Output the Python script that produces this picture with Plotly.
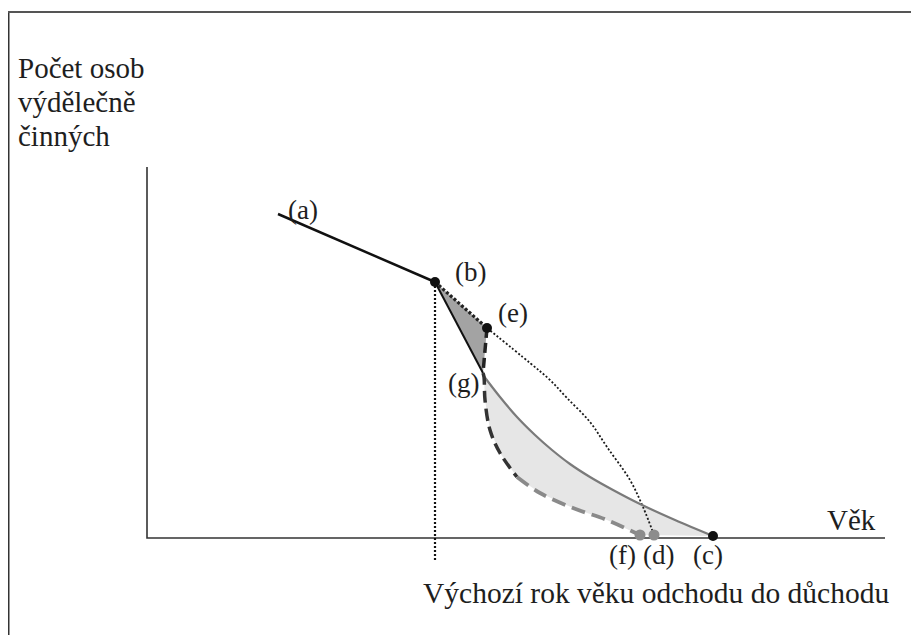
import plotly.graph_objects as go

# ---- schematic data (age on x, number of working persons on y; origin = axis corner) ----
# key points
pt_a = (131, 324)
pt_b = (288, 256)
pt_e = (340, 210)
pt_g = (336, 165)
pt_c = (566, 2)
pt_f = (493, 3)
pt_d = (507, 3)

# solid grey curve g -> c
solid_x = [336, 353, 370, 388, 405, 423, 443, 466, 493, 528, 566]
solid_y = [163, 141, 121, 103, 88, 74, 61, 48, 34, 18, 2]

# dashed curve g -> f (upper dark part, lower grey part)
dash_top_x = [336, 337, 338, 343, 353, 370]
dash_top_y = [165, 161, 138, 108, 85, 61]
dash_bot_x = [370, 393, 426, 460, 493]
dash_bot_y = [61, 45, 30, 18, 3]

# thin dotted curve e -> d
dot_x = [340, 383, 403, 420, 443, 460, 483, 496, 507]
dot_y = [210, 175, 158, 140, 116, 91, 58, 31, 3]

# axes extents
x_axis_end = 738
y_axis_end = 371
ref_drop = -22

labels = ["(a)", "(b)", "(e)", "(g)", "(f)", "(d)", "(c)"]
label_x = [156, 323, 366, 316, 475, 511, 561]
label_y = [328, 266, 225, 155, -17, -17, -17]

y_title = ["Počet osob", "výdělečně", "činných"]
x_title = "Věk"
bottom_title = "Výchozí rok věku odchodu do důchodu"

FONT = "Liberation Serif, Times New Roman, Times, serif"
TXT = "#1e1e1e"

# the page body has an 8px margin; figure is sized/offset to compensate
W, H = 903, 627
X0, Y1 = -139, 530

fig = go.Figure()

# light grey area between solid and dashed curves
poly_x = solid_x + [pt_f[0]] + dash_bot_x[::-1] + dash_top_x[::-1]
poly_y = solid_y + [pt_f[1]] + dash_bot_y[::-1] + dash_top_y[::-1]
fig.add_trace(go.Scatter(x=poly_x, y=poly_y, mode="lines", fill="toself",
                         fillcolor="#e6e6e6", line=dict(width=0), hoverinfo="skip"))

# dark triangle b-e-g
fig.add_trace(go.Scatter(x=[pt_b[0], pt_e[0], pt_g[0], pt_b[0]],
                         y=[pt_b[1], pt_e[1], pt_g[1], pt_b[1]],
                         mode="lines", fill="toself", fillcolor="#a3a3a3",
                         line=dict(width=0), hoverinfo="skip"))

# axes
fig.add_trace(go.Scatter(x=[0, 0, x_axis_end], y=[y_axis_end, 0, 0], mode="lines",
                         line=dict(color="#333333", width=1.6)))

# vertical reference dotted line at b
fig.add_trace(go.Scatter(x=[pt_b[0], pt_b[0]], y=[pt_b[1], ref_drop], mode="lines",
                         line=dict(color="#111111", width=2.2, dash="2px,2px")))

# a -> b
fig.add_trace(go.Scatter(x=[pt_a[0], pt_b[0]], y=[pt_a[1], pt_b[1]], mode="lines",
                         line=dict(color="#111111", width=2.5)))
# b -> g
fig.add_trace(go.Scatter(x=[pt_b[0], pt_g[0]], y=[pt_b[1], pt_g[1]], mode="lines",
                         line=dict(color="#111111", width=2)))
# b -> e dotted
fig.add_trace(go.Scatter(x=[pt_b[0], pt_e[0]], y=[pt_b[1], pt_e[1]], mode="lines",
                         line=dict(color="#222222", width=3.2, dash="3px,2px")))
# e -> g dashed
fig.add_trace(go.Scatter(x=[pt_e[0], pt_g[0]], y=[pt_e[1], pt_g[1]], mode="lines",
                         line=dict(color="#222222", width=3.5, dash="10px,5px")))
# thin dotted e -> d
fig.add_trace(go.Scatter(x=dot_x, y=dot_y, mode="lines", line_shape="spline",
                         line=dict(color="#1a1a1a", width=1.8, dash="2px,2px")))
# solid grey g -> c
fig.add_trace(go.Scatter(x=solid_x, y=solid_y, mode="lines", line_shape="spline",
                         line=dict(color="#7a7a7a", width=2.2)))
# dashed g -> f
fig.add_trace(go.Scatter(x=dash_top_x, y=dash_top_y, mode="lines", line_shape="spline",
                         line=dict(color="#333333", width=3.5, dash="12px,6px")))
fig.add_trace(go.Scatter(x=dash_bot_x, y=dash_bot_y, mode="lines", line_shape="spline",
                         line=dict(color="#8a8a8a", width=3.8, dash="14px,7px")))

# markers
fig.add_trace(go.Scatter(x=[pt_b[0], pt_e[0], pt_c[0]], y=[pt_b[1], pt_e[1], pt_c[1]],
                         mode="markers", marker=dict(color="#111111", size=10)))
fig.add_trace(go.Scatter(x=[pt_f[0], pt_d[0]], y=[pt_f[1], pt_d[1]],
                         mode="markers", marker=dict(color="#8c8c8c", size=11)))

# point labels
for t, lx, ly in zip(labels, label_x, label_y):
    fig.add_annotation(x=lx, y=ly, text=t, showarrow=False,
                       font=dict(family=FONT, size=27, color=TXT),
                       xanchor="center", yanchor="middle")

# axis titles
for i, t in enumerate(y_title):
    fig.add_annotation(x=-131, y=470 - i * 34, text=t, showarrow=False,
                       font=dict(family=FONT, size=29, color=TXT),
                       xanchor="left", yanchor="middle")
fig.add_annotation(x=704, y=18, text=x_title, showarrow=False,
                   font=dict(family=FONT, size=29, color=TXT),
                   xanchor="center", yanchor="middle")
fig.add_annotation(x=509, y=-55, text=bottom_title, showarrow=False,
                   font=dict(family=FONT, size=29.5, color=TXT),
                   xanchor="center", yanchor="middle")

# outer frame (left and top edges visible)
fig.add_shape(type="line", xref="paper", yref="paper", x0=0.5 / W, x1=0.5 / W,
              y0=0, y1=1 - 4 / H, line=dict(color="#333333", width=2))
fig.add_shape(type="line", xref="paper", yref="paper", x0=0, x1=1,
              y0=1 - 4 / H, y1=1 - 4 / H, line=dict(color="#555555", width=2))

fig.update_layout(
    width=W, height=H,
    margin=dict(l=0, r=0, t=0, b=0),
    showlegend=False,
    paper_bgcolor="white", plot_bgcolor="white",
    xaxis=dict(range=[X0, X0 + W], visible=False, fixedrange=True),
    yaxis=dict(range=[Y1 - H, Y1], visible=False, fixedrange=True),
)

fig.write_html("out.html")
